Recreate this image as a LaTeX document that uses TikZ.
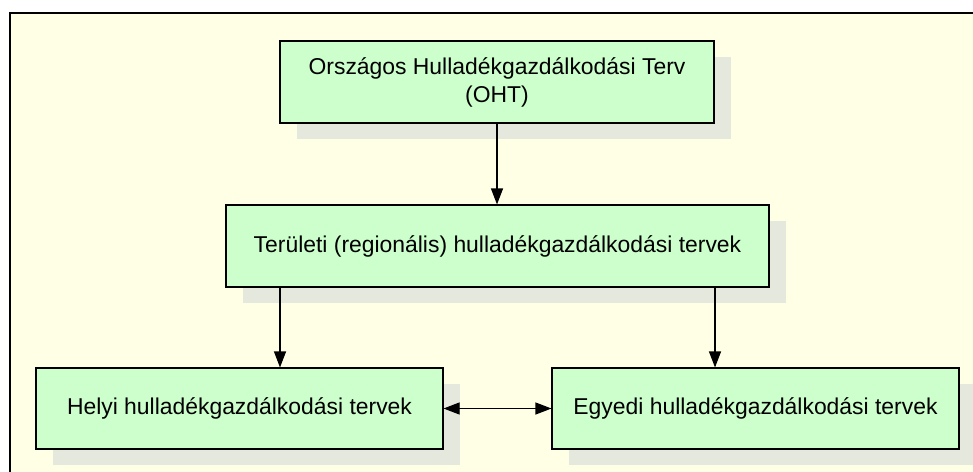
\documentclass[tikz,border=0pt]{standalone}
\usepackage{fontspec}
\setmainfont{Liberation Sans}
\usetikzlibrary{arrows.meta,shadows}

\definecolor{pagebg}{RGB}{255,255,230}
\definecolor{boxfill}{RGB}{204,255,204}
\definecolor{shadowfill}{RGB}{229,233,221}

\tikzset{
  planbox/.style={
    draw=black, line width=1.1pt, fill=boxfill,
    minimum height=82pt, inner sep=0pt, align=center,
    font=\fontsize{22.9}{28}\selectfont,
    general shadow={fill=shadowfill, shadow xshift=17pt, shadow yshift=-16pt}
  },
  link/.style={line width=1.1pt, -{Triangle[length=16pt,width=12pt]}},
  duallink/.style={line width=1.1pt, {Triangle[length=16pt,width=12pt]}-{Triangle[length=16pt,width=12pt]}}
}

\begin{document}
\begin{tikzpicture}[x=1pt, y=-1pt]
  \useasboundingbox (0,0) rectangle (973,471);
  \clip (0,0) rectangle (973,471);
  \fill[white] (0,0) rectangle (973,471);
  % framed background panel, running past the right and bottom edges
  \draw[line width=1.1pt, fill=pagebg] (10,13) rectangle (990,490);

  \node[planbox, minimum width=434pt] (oht) at (497,82)
    {Országos Hulladékgazdálkodási Terv\\(OHT)};
  \node[planbox, minimum width=543pt] (reg) at (497.5,246)
    {Területi (regionális) hulladékgazdálkodási tervek};
  \node[planbox, minimum width=407pt, minimum height=81pt] (helyi) at (239.5,408.5)
    {Helyi hulladékgazdálkodási tervek};
  \node[planbox, minimum width=407pt, minimum height=81pt] (egyedi) at (755.5,408.5)
    {Egyedi hulladékgazdálkodási tervek};

  \draw[link] (oht.south) -- (oht.south |- reg.north);
  \draw[link] ([xshift=40.5pt]helyi.north |- reg.south) -- ([xshift=40.5pt]helyi.north);
  \draw[link] ([xshift=-40.5pt]egyedi.north |- reg.south) -- ([xshift=-40.5pt]egyedi.north);
  \draw[duallink] (helyi.east) -- (egyedi.west);
\end{tikzpicture}
\end{document}
